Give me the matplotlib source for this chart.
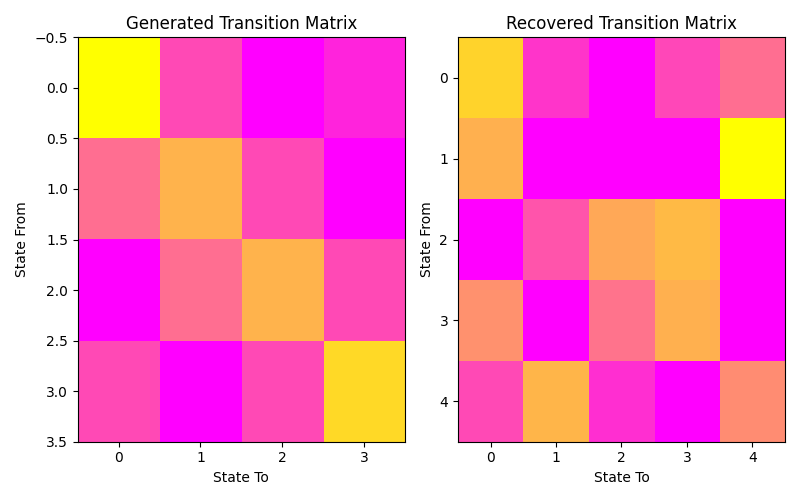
import numpy as np
import matplotlib.pyplot as plt

generated = np.array([
    [1.00, 0.29, 0.00, 0.14],
    [0.43, 0.70, 0.29, 0.00],
    [0.00, 0.43, 0.70, 0.29],
    [0.29, 0.00, 0.29, 0.85],
])

recovered = np.array([
    [0.83, 0.21, 0.00, 0.28, 0.43],
    [0.69, 0.00, 0.00, 0.00, 1.00],
    [0.00, 0.33, 0.66, 0.73, 0.00],
    [0.57, 0.00, 0.45, 0.69, 0.00],
    [0.29, 0.71, 0.18, 0.00, 0.55],
])

fig, axes = plt.subplots(1, 2, figsize=(8, 5), dpi=100)

axes[0].imshow(generated, cmap='spring', aspect='auto')
axes[0].set_title("Generated Transition Matrix")
axes[0].set_xlabel("State To")
axes[0].set_ylabel("State From")
axes[0].set_xticks(range(generated.shape[1]))

axes[1].imshow(recovered, cmap='spring', aspect='auto')
axes[1].set_title("Recovered Transition Matrix")
axes[1].set_xlabel("State To")
axes[1].set_ylabel("State From")
axes[1].set_xticks(range(recovered.shape[1]))
axes[1].set_yticks(range(recovered.shape[0]))

plt.tight_layout()
plt.savefig("out.png")
